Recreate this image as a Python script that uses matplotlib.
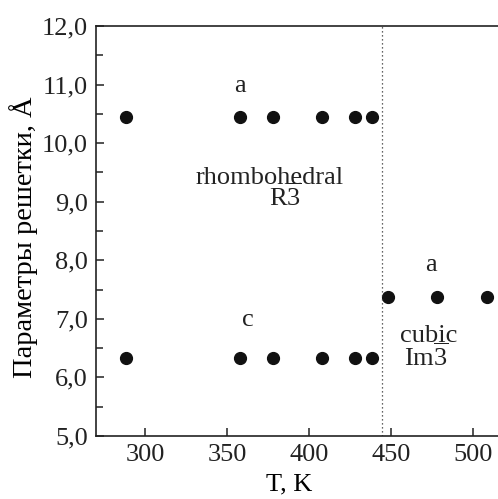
import matplotlib
matplotlib.use("Agg")
import matplotlib.pyplot as plt
from matplotlib.ticker import FuncFormatter, MultipleLocator

plt.rcParams['font.family'] = ['Liberation Serif', 'DejaVu Serif']
plt.rcParams['mathtext.fontset'] = 'custom'
plt.rcParams['mathtext.rm'] = 'Liberation Serif'
plt.rcParams['mathtext.it'] = 'Liberation Serif'

# Lattice parameters vs temperature
T_rhombo = [288, 358, 378, 408, 428, 438]
a_rhombo = [10.44, 10.44, 10.44, 10.44, 10.44, 10.44]
c_rhombo = [6.33, 6.33, 6.33, 6.33, 6.33, 6.33]
T_cubic = [448, 478, 508]
a_cubic = [7.37, 7.37, 7.37]
T_transition = 444

x_ticks = [300, 350, 400, 450, 500]
y_ticks = [5.0, 6.0, 7.0, 8.0, 9.0, 10.0, 11.0, 12.0]

FS = 19

fig = plt.figure(figsize=(4.98, 4.99), dpi=100)
ax = fig.add_axes([96 / 498, 63 / 499, 402 / 498, 410 / 499])

ax.plot(T_rhombo, a_rhombo, 'o', color='#111111', ms=8.5, clip_on=False)
ax.plot(T_rhombo, c_rhombo, 'o', color='#111111', ms=8.5, clip_on=False)
ax.plot(T_cubic, a_cubic, 'o', color='#111111', ms=8.5, clip_on=False)
ax.axvline(T_transition, color='#333333', lw=0.9, linestyle=(0, (1, 2.2)))

ax.set_xlim(270, 515)
ax.set_ylim(5, 12)
ax.set_xticks(x_ticks)
ax.set_yticks(y_ticks)
ax.yaxis.set_minor_locator(MultipleLocator(0.5))
ax.yaxis.set_major_formatter(FuncFormatter(lambda v, p: f"{v:.1f}".replace('.', ',')))

for side in ('left', 'bottom', 'top'):
    ax.spines[side].set_linewidth(1.2)
    ax.spines[side].set_color('#222222')
ax.spines['right'].set_visible(False)

ax.tick_params(which='both', direction='in', labelsize=FS, colors='#222222',
               width=1.1, top=False, right=False)
ax.tick_params(which='major', length=5.5, pad=6)
ax.tick_params(which='minor', length=5)

ax.set_xlabel('T, K', fontsize=FS)
ax.xaxis.set_label_coords(193 / 402, -37 / 410)
ax.set_ylabel('Параметры решетки, Å', fontsize=20.5)
ax.yaxis.set_label_coords(-58 / 402, 0.485)

txt = dict(fontsize=FS, color='#222222', ha='center', va='baseline')
ax.text(358, 10.87, 'a', **txt)
ax.text(362.6, 6.87, 'c', **txt)
ax.text(474.2, 7.82, 'a', **txt)
ax.text(375.5, 9.31, 'rhombohedral', **txt)
ax.text(385.3, 8.93, r'R$\overline{\mathrm{3}}$', **txt)
ax.text(473, 6.61, 'cubic', **txt)
ax.text(471.4, 6.19, r'Im$\overline{\mathrm{3}}$', **txt)

fig.savefig('out.png', dpi=100)
